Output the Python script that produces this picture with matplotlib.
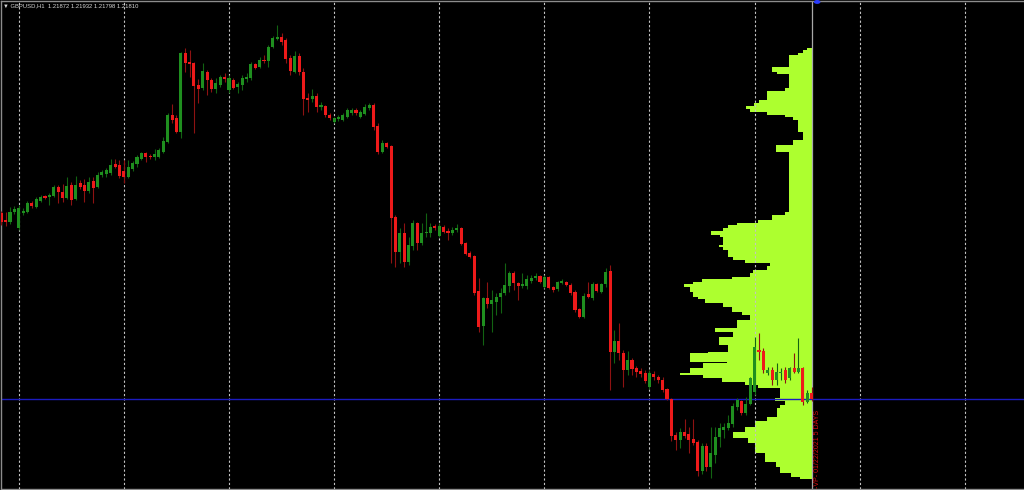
import numpy as np
import matplotlib
matplotlib.use('Agg')
import matplotlib.pyplot as plt

symbol = 'GBPUSD,H1'

# OHLC, one value per H1 candle
opens = [
    1.2367, 1.2360, 1.2358, 1.2368, 1.2352, 1.2367, 1.2368, 1.2377, 1.2373, 1.2379,
    1.2384, 1.2383, 1.2384, 1.2393, 1.2388, 1.2382, 1.2395, 1.2381, 1.2397, 1.2395,
    1.2389, 1.2399, 1.2393, 1.2405, 1.2406, 1.2407, 1.2416, 1.2415, 1.2409, 1.2403,
    1.2411, 1.2416, 1.2421, 1.2427, 1.2424, 1.2423, 1.2423, 1.2428, 1.2438, 1.2465,
    1.2462, 1.2448, 1.2527, 1.2518, 1.2517, 1.2495, 1.2492, 1.2508, 1.2500, 1.2491,
    1.2495, 1.2503, 1.2490, 1.2500, 1.2493, 1.2495, 1.2501, 1.2502, 1.2516, 1.2513,
    1.2520, 1.2519, 1.2533, 1.2541, 1.2543, 1.2540, 1.2522, 1.2508, 1.2524, 1.2508,
    1.2482, 1.2481, 1.2484, 1.2473, 1.2474, 1.2465, 1.2458, 1.2461, 1.2460, 1.2463,
    1.2467, 1.2470, 1.2463, 1.2466, 1.2472, 1.2475, 1.2454, 1.2428, 1.2437, 1.2434,
    1.2363, 1.2328, 1.2347, 1.2318, 1.2334, 1.2357, 1.2337, 1.2347, 1.2347, 1.2354,
    1.2344, 1.2353, 1.2349, 1.2347, 1.2350, 1.2352, 1.2337, 1.2327, 1.2324, 1.2289,
    1.2254, 1.2282, 1.2276, 1.2278, 1.2283, 1.2287, 1.2294, 1.2307, 1.2297, 1.2294,
    1.2294, 1.2299, 1.2302, 1.2304, 1.2293, 1.2303, 1.2293, 1.2291, 1.2297, 1.2298,
    1.2295, 1.2288, 1.2271, 1.2263, 1.2286, 1.2282, 1.2296, 1.2288, 1.2296, 1.2309,
    1.2228, 1.2239, 1.2227, 1.2210, 1.2220, 1.2212, 1.2209, 1.2207, 1.2193, 1.2206,
    1.2203, 1.2200, 1.2191, 1.2181, 1.2145, 1.2140, 1.2148, 1.2146, 1.2141, 1.2138,
    1.2110, 1.2134, 1.2113, 1.2125, 1.2143, 1.2150, 1.2152, 1.2156, 1.2173, 1.2179,
    1.2167, 1.2176, 1.2188, 1.2230, 1.2229, 1.2207, 1.2210, 1.2200, 1.2207, 1.2210,
    1.2202, 1.2212, 1.2208, 1.2212, 1.2178, 1.21872,
]
highs = [
    1.2369, 1.2368, 1.2373, 1.2374, 1.2375, 1.2372, 1.2379, 1.2379, 1.2383, 1.2385,
    1.2385, 1.2387, 1.2395, 1.2395, 1.2396, 1.2403, 1.2398, 1.2404, 1.2400, 1.2401,
    1.2403, 1.2403, 1.2408, 1.2410, 1.2412, 1.2421, 1.2421, 1.2420, 1.2420, 1.2420,
    1.2419, 1.2425, 1.2428, 1.2428, 1.2426, 1.2431, 1.2432, 1.2443, 1.2467, 1.2476,
    1.2465, 1.2528, 1.2532, 1.2530, 1.2518, 1.2501, 1.2517, 1.2510, 1.2502, 1.2502,
    1.2505, 1.2507, 1.2505, 1.2502, 1.2498, 1.2505, 1.2507, 1.2518, 1.2517, 1.2523,
    1.2525, 1.2535, 1.2544, 1.2555, 1.2547, 1.2542, 1.2525, 1.2529, 1.2527, 1.2512,
    1.2487, 1.2491, 1.2487, 1.2478, 1.2475, 1.2467, 1.2463, 1.2465, 1.2467, 1.2472,
    1.2472, 1.2472, 1.2470, 1.2476, 1.2477, 1.2477, 1.2457, 1.2440, 1.2438, 1.2435,
    1.2365, 1.2352, 1.2357, 1.2343, 1.2360, 1.2358, 1.2357, 1.2367, 1.2357, 1.2356,
    1.2357, 1.2355, 1.2352, 1.2353, 1.2356, 1.2353, 1.2338, 1.2329, 1.2325, 1.2302,
    1.2283, 1.2298, 1.2290, 1.2287, 1.2292, 1.2317, 1.2309, 1.2309, 1.2298, 1.2307,
    1.2305, 1.2305, 1.2307, 1.2305, 1.2305, 1.2304, 1.2294, 1.2299, 1.2301, 1.2299,
    1.2297, 1.2290, 1.2272, 1.2287, 1.2298, 1.2298, 1.2297, 1.2297, 1.2312, 1.2315,
    1.2250, 1.2257, 1.2230, 1.2229, 1.2222, 1.2214, 1.2212, 1.2210, 1.2210, 1.2209,
    1.2205, 1.2203, 1.2192, 1.2182, 1.2148, 1.2152, 1.2161, 1.2153, 1.2161, 1.2140,
    1.2137, 1.2137, 1.2153, 1.2153, 1.2157, 1.2157, 1.2165, 1.2177, 1.2182, 1.2180,
    1.2183, 1.2203, 1.2243, 1.2247, 1.2232, 1.2213, 1.2213, 1.2217, 1.2212, 1.2213,
    1.2213, 1.2227, 1.2242, 1.2213, 1.2190, 1.21932,
]
lows = [
    1.2355, 1.2354, 1.2356, 1.2366, 1.2350, 1.2365, 1.2367, 1.2372, 1.2372, 1.2378,
    1.2381, 1.2375, 1.2383, 1.2377, 1.2378, 1.2381, 1.2375, 1.2380, 1.2391, 1.2378,
    1.2387, 1.2377, 1.2392, 1.2403, 1.2403, 1.2405, 1.2412, 1.2402, 1.2397, 1.2402,
    1.2409, 1.2413, 1.2420, 1.2418, 1.2421, 1.2420, 1.2422, 1.2427, 1.2437, 1.2457,
    1.2447, 1.2442, 1.2508, 1.2503, 1.2447, 1.2477, 1.2490, 1.2485, 1.2488, 1.2487,
    1.2493, 1.2498, 1.2487, 1.2491, 1.2487, 1.2490, 1.2498, 1.2500, 1.2511, 1.2512,
    1.2517, 1.2513, 1.2532, 1.2540, 1.2535, 1.2517, 1.2505, 1.2507, 1.2505, 1.2465,
    1.2468, 1.2478, 1.2468, 1.2470, 1.2463, 1.2460, 1.2457, 1.2459, 1.2459, 1.2462,
    1.2465, 1.2465, 1.2462, 1.2465, 1.2470, 1.2450, 1.2426, 1.2427, 1.2432, 1.2317,
    1.2313, 1.2317, 1.2313, 1.2315, 1.2330, 1.2330, 1.2335, 1.2343, 1.2343, 1.2350,
    1.2343, 1.2347, 1.2340, 1.2345, 1.2348, 1.2335, 1.2325, 1.2322, 1.2285, 1.2248,
    1.2235, 1.2272, 1.2248, 1.2265, 1.2267, 1.2285, 1.2288, 1.2290, 1.2280, 1.2292,
    1.2291, 1.2297, 1.2300, 1.2297, 1.2292, 1.2291, 1.2288, 1.2289, 1.2296, 1.2294,
    1.2285, 1.2268, 1.2262, 1.2262, 1.2282, 1.2280, 1.2288, 1.2287, 1.2293, 1.2190,
    1.2217, 1.2220, 1.2193, 1.2205, 1.2205, 1.2203, 1.2203, 1.2197, 1.2191, 1.2200,
    1.2197, 1.2188, 1.2180, 1.2139, 1.2130, 1.2132, 1.2142, 1.2127, 1.2135, 1.2105,
    1.2107, 1.2110, 1.2103, 1.2117, 1.2133, 1.2142, 1.2150, 1.2153, 1.2170, 1.2165,
    1.2165, 1.2175, 1.2185, 1.2220, 1.2207, 1.2205, 1.2195, 1.2195, 1.2200, 1.2197,
    1.2200, 1.2207, 1.2207, 1.2175, 1.2177, 1.21798,
]
closes = [
    1.2358, 1.2358, 1.2368, 1.2371, 1.2372, 1.2369, 1.2377, 1.2374, 1.2381, 1.2383,
    1.2382, 1.2385, 1.2393, 1.2388, 1.2382, 1.2394, 1.2380, 1.2395, 1.2393, 1.2389,
    1.2398, 1.2392, 1.2405, 1.2408, 1.2410, 1.2415, 1.2413, 1.2404, 1.2403, 1.2413,
    1.2417, 1.2423, 1.2427, 1.2423, 1.2423, 1.2426, 1.2430, 1.2439, 1.2465, 1.2460,
    1.2448, 1.2527, 1.2517, 1.2516, 1.2494, 1.2491, 1.2509, 1.2500, 1.2491, 1.2497,
    1.2503, 1.2501, 1.2502, 1.2492, 1.2496, 1.2502, 1.2503, 1.2516, 1.2512, 1.2520,
    1.2519, 1.2533, 1.2542, 1.2543, 1.2538, 1.2521, 1.2509, 1.2524, 1.2508, 1.2481,
    1.2480, 1.2484, 1.2473, 1.2475, 1.2465, 1.2462, 1.2462, 1.2463, 1.2465, 1.2470,
    1.2470, 1.2467, 1.2468, 1.2473, 1.2475, 1.2453, 1.2428, 1.2437, 1.2433, 1.2362,
    1.2328, 1.2347, 1.2318, 1.2335, 1.2357, 1.2337, 1.2347, 1.2348, 1.2353, 1.2352,
    1.2354, 1.2348, 1.2347, 1.2350, 1.2352, 1.2336, 1.2326, 1.2323, 1.2287, 1.2253,
    1.2282, 1.2276, 1.2280, 1.2283, 1.2287, 1.2295, 1.2307, 1.2297, 1.2294, 1.2296,
    1.2301, 1.2302, 1.2304, 1.2298, 1.2303, 1.2292, 1.2290, 1.2298, 1.2299, 1.2295,
    1.2287, 1.2270, 1.2263, 1.2284, 1.2283, 1.2296, 1.2289, 1.2296, 1.2308, 1.2228,
    1.2239, 1.2227, 1.2210, 1.2220, 1.2211, 1.2208, 1.2206, 1.2199, 1.2207, 1.2203,
    1.2200, 1.2190, 1.2181, 1.2144, 1.2140, 1.2148, 1.2144, 1.2140, 1.2137, 1.2110,
    1.2134, 1.2113, 1.2127, 1.2143, 1.2152, 1.2153, 1.2157, 1.2174, 1.2180, 1.2167,
    1.2176, 1.2202, 1.2233, 1.2228, 1.2210, 1.2210, 1.2200, 1.2208, 1.2208, 1.2200,
    1.2212, 1.2208, 1.2212, 1.2178, 1.2187, 1.21810,
]

# volume profile: price step edges (top -> bottom) and volume per step
vp_edges = [
    1.2532, 1.2530, 1.2527, 1.2525, 1.2513, 1.2508, 1.2506, 1.2492, 1.2489, 1.2480,
    1.2477, 1.2474, 1.2471, 1.2468, 1.2465, 1.2463, 1.2460, 1.2448, 1.2440, 1.2435,
    1.2428, 1.2368, 1.2365, 1.2360, 1.2357, 1.2355, 1.2352, 1.2349, 1.2345, 1.2343,
    1.2335, 1.2333, 1.2330, 1.2323, 1.2320, 1.2317, 1.2314, 1.2310, 1.2307, 1.2303,
    1.2301, 1.2298, 1.2296, 1.2293, 1.2288, 1.2283, 1.2281, 1.2277, 1.2273, 1.2268,
    1.2265, 1.2260, 1.2252, 1.2248, 1.2243, 1.2235, 1.2228, 1.2227, 1.2218, 1.2217,
    1.2212, 1.2207, 1.2205, 1.2202, 1.2198, 1.2195, 1.2192, 1.2185, 1.2182, 1.2179,
    1.2175, 1.2172, 1.2163, 1.2159, 1.2153, 1.2148, 1.2142, 1.2137, 1.2127, 1.2118,
    1.2113, 1.2108, 1.2104, 1.2102,
]
vp_volume = [
    5, 9, 14, 23, 40, 35, 23, 27, 45, 53,
    58, 66, 62, 45, 27, 19, 14, 9, 19, 36,
    23, 27, 40, 54, 75, 84, 89, 101, 92, 89,
    93, 89, 84, 79, 67, 42, 45, 59, 62, 80,
    110, 119, 128, 122, 119, 114, 107, 89, 80, 70,
    62, 75, 97, 79, 93, 84, 104, 122, 85, 109,
    122, 132, 109, 90, 67, 54, 32, 32, 37, 27,
    32, 35, 45, 57, 67, 79, 64, 57, 47, 36,
    32, 21, 12,
]

vp_label = '-VP- 01/22/2021 5 DAYS'
day_sep = [4, 28, 52, 76, 100, 124, 148, 172, 196, 220]

BULL, BEAR = '#1f8f1f', '#ee1a1a'
BULL_W, BEAR_W = '#126312', '#8e1212'

fig = plt.figure(figsize=(10.24, 4.9), dpi=100, facecolor='black')
pos = [0.0005, 0.003, 0.9995, 0.9955]
ylim = (1.2092, 1.2579)

# profile layer (below)
ax_vp = fig.add_axes(pos)
ax_vp.set_facecolor('black')
hi = np.array(vp_edges[:-1])
lo = np.array(vp_edges[1:])
ax_vp.barh(lo, vp_volume, height=hi - lo, align='edge', color='#adff2f', linewidth=0)
ax_vp.set_xlim(811.5, -212)
ax_vp.set_ylim(*ylim)
ax_vp.axis('off')

# candles layer (above)
ax = fig.add_axes(pos)
ax.patch.set_visible(False)
n = len(closes)
x = np.arange(n)
o = np.array(opens); h = np.array(highs); l = np.array(lows); c = np.array(closes)
up = c >= o

for d in day_sep:
    ax.axvline(d, color='#c4c4c4', lw=0.8, ls=(0, (2, 2)), zorder=1)
ax.axvline(n - 1, color='#a8a8a8', lw=0.9, zorder=1)
ax.axhline(c[-1], color='#1c1cc0', lw=1.0, zorder=2)

ax.vlines(x, l, h, colors=np.where(up, BULL_W, BEAR_W), lw=0.8, zorder=3)
body = np.maximum(np.abs(c - o), 0.00008)
ax.bar(x, body, bottom=np.minimum(o, c), width=0.7,
       color=np.where(up, BULL, BEAR), linewidth=0, zorder=4)

ax.set_xlim(-0.16, 233.5)
ax.set_ylim(*ylim)
ax.set_xticks([])
ax.set_yticks([])
for side in ['top', 'left', 'bottom']:
    ax.spines[side].set_color('#8c8c8c')
    ax.spines[side].set_linewidth(1)
ax.spines['right'].set_visible(False)

header = f'\u25bc {symbol}  {o[-1]:.5f} {h[-1]:.5f} {l[-1]:.5f} {c[-1]:.5f}'
fig.text(0.003, 0.988, header, color='#d8d8d8', fontsize=4.2,
         family=['Liberation Sans', 'DejaVu Sans'], va='center', ha='left')
fig.text(0.7985, 0.004, vp_label, color='#e01010', fontsize=5, rotation=90,
         family=['Liberation Sans', 'DejaVu Sans'], va='bottom', ha='center')
fig.add_artist(plt.Circle((0.798, 0.996), 0.0025, color='#2a3cff',
                          transform=fig.transFigure))

fig.savefig('out.png', dpi=100, facecolor='black')
